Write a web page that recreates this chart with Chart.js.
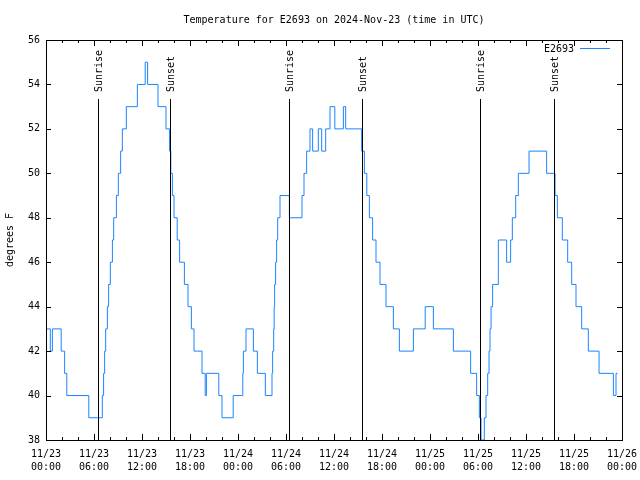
<!DOCTYPE html>
<html>
<head>
<meta charset="utf-8">
<script src="https://cdn.jsdelivr.net/npm/chart.js@4/dist/chart.umd.min.js"></script>
<style>
  html, body { margin:0; padding:0; background:#fff; }
  #wrap { width:640px; height:480px; }
</style>
</head>
<body>
<div id="wrap"><canvas id="c" width="640" height="480"></canvas></div>
<script>
// -------- data (hours since 11/23 00:00 UTC, temperature in F) --------
// each point = time the reading changed to that value
const hours = [
  0, 0.54, 0.8, 1.9, 2.33, 2.6, 5.35, 7.04, 7.2, 7.33, 7.46, 7.67, 7.83, 8.04, 8.3, 8.46, 8.8,
  9.04, 9.33, 9.54, 10.04, 11.42, 12.4, 12.7, 14.0, 15.0, 15.45, 15.6, 15.8, 16.0, 16.4, 16.7,
  17.3, 17.75, 18.17, 18.5, 19.5, 19.9, 20.05, 21.6, 22.0, 23.4,
  24.6, 24.67, 25.0, 25.92, 26.42, 27.42, 28.25, 28.33, 28.46, 28.52, 28.58, 28.7, 28.83, 28.96,
  29.25, 30.42, 32.0, 32.25, 32.58, 33.0, 33.33, 34.04, 34.46, 34.96, 35.5, 36.1, 37.17, 37.46,
  39.46, 39.8, 40.1, 40.42, 40.83, 41.25, 41.75, 42.5, 43.42, 44.17, 45.92, 47.4,
  48.42, 50.92, 53.08, 53.83, 54.17, 54.38, 54.79, 55.0, 55.21, 55.38, 55.5, 55.63, 55.83,
  56.54, 57.58, 58.08, 58.29, 58.71, 59.04, 60.38, 62.58, 63.63, 63.92, 64.54, 65.21, 65.71,
  66.25, 66.96, 67.79, 69.13, 70.92, 71.25, 71.45
];
const temps = [
  43, 42, 43, 42, 41, 40, 39, 40, 41, 42, 43, 44, 45, 46, 47, 48, 49,
  50, 51, 52, 53, 54, 55, 54, 53, 52, 51, 50, 49, 48, 47, 46,
  45, 44, 43, 42, 41, 40, 41, 40, 39, 40,
  41, 42, 43, 42, 41, 40, 41, 42, 43, 44, 45, 46, 47, 48,
  49, 48, 49, 50, 51, 52, 51, 52, 51, 52, 53, 52, 53, 52,
  51, 50, 49, 48, 47, 46, 45, 44, 43, 42, 43, 44,
  43, 42, 41, 40, 39, 38, 39, 40, 41, 42, 43, 44, 45,
  47, 46, 47, 48, 49, 50, 51, 50, 49, 48, 47, 46, 45,
  44, 43, 42, 41, 40, 41, 41
];
const sunrise = [6.45, 30.42, 54.3];
const sunset  = [15.53, 39.45, 63.46];
const yTicks  = [38, 40, 42, 44, 46, 48, 50, 52, 54, 56];
const seriesName = 'E2693';
const titleText  = 'Temperature for E2693 on 2024-Nov-23 (time in UTC)';

const FONT = '"DejaVu Sans Mono", monospace';
const BLUE = '#1a84ff';

// "11/23" + "00:00" from hour offset
function fmtTick(v){
  const day = 23 + Math.floor(v / 24);
  const h = Math.round(v % 24);
  return ['11/' + day, String(h).padStart(2,'0') + ':00'];
}

// gnuplot-ish frame: border, inward ticks, sun markers, title, legend
const frame = {
  id: 'frame',
  afterDatasetsDraw(chart){
    const { ctx, chartArea: a, scales: { x, y } } = chart;
    ctx.save();
    ctx.strokeStyle = '#000';
    ctx.lineWidth = 1;

    // sunrise / sunset lines + labels
    ctx.font = '10px ' + FONT;
    ctx.fillStyle = '#000';
    const mark = (arr, label) => arr.forEach(h => {
      const px = Math.round(x.getPixelForValue(h)) + 0.5;
      ctx.beginPath(); ctx.moveTo(px, 99); ctx.lineTo(px, a.bottom); ctx.stroke();
      ctx.save();
      ctx.translate(px + 1, 92);
      ctx.rotate(-Math.PI / 2);
      ctx.textAlign = 'left'; ctx.textBaseline = 'middle';
      ctx.fillText(label, 0, 0);
      ctx.restore();
    });
    mark(sunrise, 'Sunrise');
    mark(sunset, 'Sunset');

    // border
    ctx.strokeRect(Math.round(a.left) + 0.5, Math.round(a.top) + 0.5,
                   Math.round(a.right - a.left), Math.round(a.bottom - a.top));

    // x ticks (major 6h, minor 2h), bottom and top
    for (let h = 0; h <= 72; h += 2) {
      const len = h % 6 === 0 ? 6 : 3;
      const px = Math.round(x.getPixelForValue(h)) + 0.5;
      ctx.beginPath();
      ctx.moveTo(px, a.bottom); ctx.lineTo(px, a.bottom - len);
      ctx.moveTo(px, a.top);    ctx.lineTo(px, a.top + len);
      ctx.stroke();
    }
    // y ticks left and right
    yTicks.forEach(t => {
      const py = Math.round(y.getPixelForValue(t)) + 0.5;
      ctx.beginPath();
      ctx.moveTo(a.left, py);  ctx.lineTo(a.left + 5, py);
      ctx.moveTo(a.right, py); ctx.lineTo(a.right - 5, py);
      ctx.stroke();
    });

    // title
    ctx.textAlign = 'center'; ctx.textBaseline = 'middle';
    ctx.fillText(titleText, (a.left + a.right) / 2, 20);

    // y axis label
    ctx.save();
    ctx.translate(10, (a.top + a.bottom) / 2);
    ctx.rotate(-Math.PI / 2);
    ctx.fillText('degrees F', 0, 0);
    ctx.restore();

    // legend
    ctx.textAlign = 'right';
    ctx.fillText(seriesName, 574, 49);
    ctx.strokeStyle = BLUE;
    ctx.beginPath(); ctx.moveTo(580, 48.5); ctx.lineTo(610, 48.5); ctx.stroke();

    ctx.restore();
  }
};

new Chart(document.getElementById('c'), {
  type: 'line',
  data: {
    datasets: [{
      label: seriesName,
      data: hours.map((h, i) => ({ x: h, y: temps[i] })),
      borderColor: BLUE,
      borderWidth: 1,
      pointRadius: 0,
      stepped: 'before',
      fill: false
    }]
  },
  options: {
    responsive: false,
    devicePixelRatio: 1,
    animation: false,
    layout: { padding: { top: 40, right: 18, left: 0, bottom: 0 } },
    plugins: { legend: { display: false }, title: { display: false }, tooltip: { enabled: false } },
    scales: {
      x: {
        type: 'linear', min: 0, max: 72,
        border: { display: false },
        grid: { display: false, drawTicks: false, tickLength: 0 },
        afterFit: s => { s.height = 40; s.paddingLeft = 0; s.paddingRight = 0; },
        ticks: {
          stepSize: 6, autoSkip: false, maxRotation: 0, padding: 8,
          color: '#000', font: { family: FONT, size: 10, lineHeight: 1.3 },
          callback: v => fmtTick(v)
        }
      },
      y: {
        min: 38, max: 56,
        border: { display: false },
        grid: { display: false, drawTicks: false, tickLength: 0 },
        afterFit: s => { s.width = 46; s.paddingTop = 0; s.paddingBottom = 0; },
        ticks: {
          stepSize: 2, padding: 6,
          color: '#000', font: { family: FONT, size: 10 }
        }
      }
    }
  },
  plugins: [frame]
});
</script>
</body>
</html>
